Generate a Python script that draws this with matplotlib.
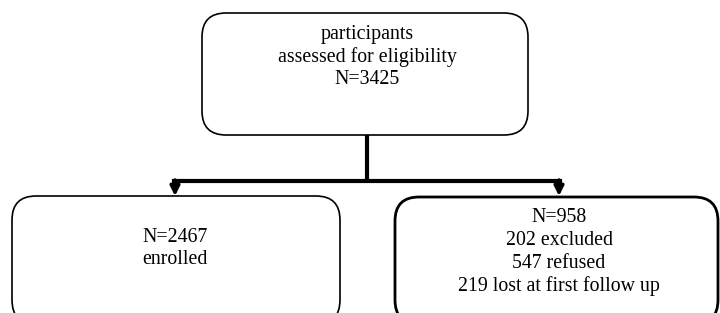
import matplotlib.pyplot as plt
from matplotlib.patches import FancyBboxPatch

# box texts
top_lines = ["participants", "assessed for eligibility", "N=3425"]
left_lines = ["N=2467", "enrolled"]
right_lines = ["N=958", "202 excluded", "547 refused", "219 lost at first follow up"]

plt.rcParams['font.family'] = ['Liberation Serif', 'DejaVu Serif']

fig = plt.figure(figsize=(7.2, 3.13), dpi=100)
ax = fig.add_axes([0, 0, 1, 1])
ax.set_xlim(0, 720)
ax.set_ylim(313, 0)
ax.axis('off')


def box(x0, y0, x1, y1, lw):
    p = FancyBboxPatch((x0, y0), x1 - x0, y1 - y0,
                       boxstyle="round,pad=0,rounding_size=24",
                       fc='white', ec='black', lw=lw, clip_on=False)
    ax.add_patch(p)


box(202, 13, 528, 135, 1.2)
box(12, 196, 340, 324, 1.2)
box(395, 197, 718, 324, 2.0)

# connectors
ax.plot([367, 367], [135, 181], color='black', lw=3, solid_capstyle='butt')
ax.plot([174, 560], [181, 181], color='black', lw=3, solid_capstyle='projecting')
for xa in [175, 559]:
    ax.annotate("", xy=(xa, 196), xytext=(xa, 180),
                arrowprops=dict(arrowstyle='-|>', color='black', lw=2.5,
                                mutation_scale=14, shrinkA=0, shrinkB=0))

fs = 14.3
for i, t in enumerate(top_lines):
    ax.text(367, 35 + i * 22.5, t, ha='center', va='center', fontsize=fs)
for i, t in enumerate(left_lines):
    ax.text(175, 238 + i * 21, t, ha='center', va='center', fontsize=fs)
for i, t in enumerate(right_lines):
    ax.text(559, 218 + i * 22.6, t, ha='center', va='center', fontsize=fs)

fig.savefig("out.png", dpi=100)
